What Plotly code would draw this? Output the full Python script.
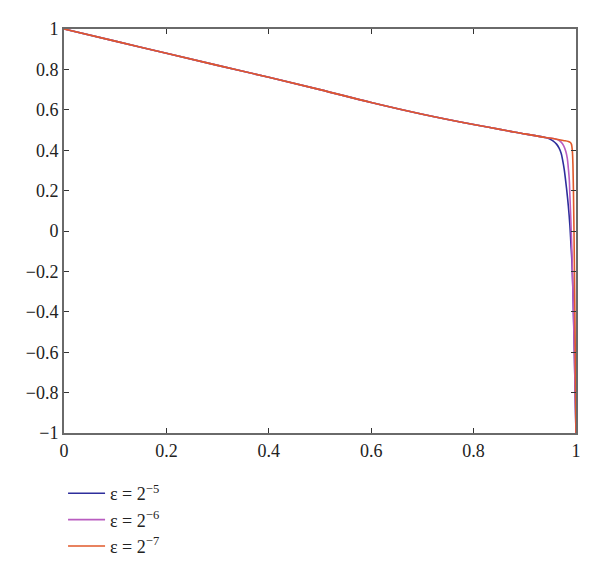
import plotly.graph_objects as go

# Shared outer solution
x_outer = [0.0, 0.1, 0.2, 0.3, 0.4, 0.5, 0.6, 0.7, 0.8, 0.9, 0.94]
y_outer = [1.000, 0.940, 0.880, 0.820, 0.761, 0.700, 0.636, 0.578, 0.527, 0.481, 0.463]

# Boundary-layer parts for each epsilon
x_eps5 = [0.948, 0.955, 0.962, 0.967, 0.971, 0.974, 0.977, 0.979, 0.982, 0.985,
          0.988, 0.990, 0.992, 0.994, 0.9955, 0.997, 0.998, 0.999, 1.0]
y_eps5 = [0.456, 0.446, 0.430, 0.410, 0.385, 0.350, 0.305, 0.265, 0.200, 0.125,
          0.030, -0.060, -0.150, -0.300, -0.450, -0.620, -0.760, -0.890, -1.0]

x_eps6 = [0.955, 0.965, 0.971, 0.976, 0.980, 0.983, 0.985, 0.987, 0.988, 0.990,
          0.992, 0.994, 0.996, 0.998, 1.0]
y_eps6 = [0.458, 0.452, 0.440, 0.422, 0.395, 0.360, 0.312, 0.250, 0.180, 0.050,
          -0.100, -0.300, -0.520, -0.760, -1.0]

x_eps7 = [0.955, 0.965, 0.975, 0.985, 0.989, 0.991, 0.992, 0.993, 0.994, 0.995,
          0.996, 0.997, 0.998, 0.999, 1.0]
y_eps7 = [0.458, 0.453, 0.448, 0.443, 0.438, 0.430, 0.418, 0.392, 0.330, 0.200,
          0.020, -0.200, -0.450, -0.720, -1.0]

series_names = ["ε = 2<sup>−5</sup>", "ε = 2<sup>−6</sup>", "ε = 2<sup>−7</sup>"]
series_x = [x_eps5, x_eps6, x_eps7]
series_y = [y_eps5, y_eps6, y_eps7]
colors = ["#2e2e9c", "#b95cc0", "#e0582a"]

x_ticks = [0, 0.2, 0.4, 0.6, 0.8, 1]
y_ticks = [-1, -0.8, -0.6, -0.4, -0.2, 0, 0.2, 0.4, 0.6, 0.8, 1]

SERIF = "Times New Roman, Liberation Serif, serif"

fig = go.Figure()
for name, xs, ys, c in zip(series_names, series_x, series_y, colors):
    fig.add_trace(go.Scatter(
        x=x_outer + xs, y=y_outer + ys, mode="lines", name=name,
        line=dict(color=c, width=1.6), line_shape="spline",
    ))

axis_common = dict(
    showline=True, linecolor="#6a6a6a", linewidth=2, mirror="ticks",
    ticks="inside", ticklen=5, tickcolor="#333", tickwidth=1,
    showgrid=False, zeroline=False, automargin=False,
    tickfont=dict(family=SERIF, size=18, color="#222"),
)

fig.update_layout(
    autosize=False,
    width=592, height=564,
    margin=dict(l=56, r=24, t=21, b=139, autoexpand=False),
    plot_bgcolor="white", paper_bgcolor="white",
    xaxis=dict(range=[0, 1], tickvals=x_ticks, **axis_common),
    yaxis=dict(range=[-1, 1], tickvals=y_ticks, **axis_common),
    showlegend=True,
    legend=dict(
        xref="container", yref="container",
        x=0.093, y=0.172, xanchor="left", yanchor="top",
        font=dict(family=SERIF, size=18, color="#222"),
        bgcolor="rgba(0,0,0,0)", tracegroupgap=0, itemwidth=37,
    ),
)

fig.write_html("out.html")
